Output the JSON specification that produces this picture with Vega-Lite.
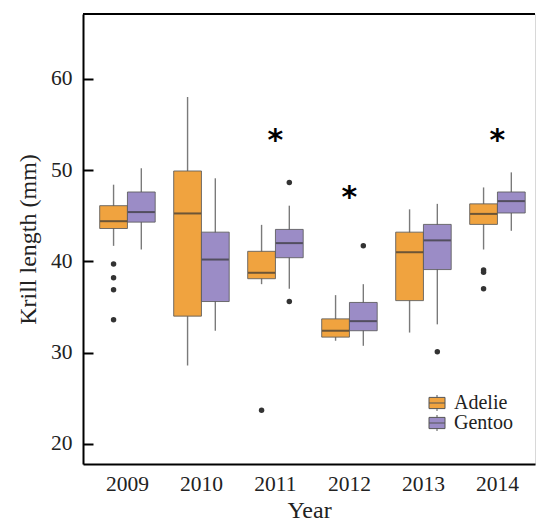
{
  "$schema": "https://vega.github.io/schema/vega-lite/v6.json",
  "width": 452,
  "height": 450,
  "padding": {"left": 16, "top": 13, "right": 0, "bottom": 0},
  "config": {"view": {"stroke": "#d8d8d8", "strokeWidth": 1}, "font": "Liberation Serif", "text": {"font": "Liberation Serif"}},
  "datasets": {
    "boxes": [
      {"year": "2009", "species": "Adelie", "lower": 41.7, "q1": 43.6, "median": 44.4, "q3": 46.1, "upper": 48.4},
      {"year": "2009", "species": "Gentoo", "lower": 41.3, "q1": 44.3, "median": 45.4, "q3": 47.6, "upper": 50.2},
      {"year": "2010", "species": "Adelie", "lower": 28.6, "q1": 34.0, "median": 45.25, "q3": 49.9, "upper": 58.0},
      {"year": "2010", "species": "Gentoo", "lower": 32.4, "q1": 35.6, "median": 40.2, "q3": 43.2, "upper": 49.1},
      {"year": "2011", "species": "Adelie", "lower": 37.5, "q1": 38.1, "median": 38.75, "q3": 41.1, "upper": 44.0},
      {"year": "2011", "species": "Gentoo", "lower": 37.0, "q1": 40.4, "median": 42.0, "q3": 43.5, "upper": 46.1},
      {"year": "2012", "species": "Adelie", "lower": 31.3, "q1": 31.7, "median": 32.4, "q3": 33.7, "upper": 36.3},
      {"year": "2012", "species": "Gentoo", "lower": 30.75, "q1": 32.4, "median": 33.45, "q3": 35.5, "upper": 37.5},
      {"year": "2013", "species": "Adelie", "lower": 32.2, "q1": 35.7, "median": 41.0, "q3": 43.2, "upper": 45.7},
      {"year": "2013", "species": "Gentoo", "lower": 33.1, "q1": 39.1, "median": 42.3, "q3": 44.05, "upper": 46.3},
      {"year": "2014", "species": "Adelie", "lower": 41.3, "q1": 44.05, "median": 45.2, "q3": 46.3, "upper": 48.1},
      {"year": "2014", "species": "Gentoo", "lower": 43.35, "q1": 45.3, "median": 46.6, "q3": 47.6, "upper": 49.75}
    ],
    "outliers": [
      {"year": "2009", "species": "Adelie", "value": 39.7},
      {"year": "2009", "species": "Adelie", "value": 38.2},
      {"year": "2009", "species": "Adelie", "value": 36.9},
      {"year": "2009", "species": "Adelie", "value": 33.6},
      {"year": "2011", "species": "Adelie", "value": 23.7},
      {"year": "2011", "species": "Gentoo", "value": 48.65},
      {"year": "2011", "species": "Gentoo", "value": 35.6},
      {"year": "2012", "species": "Gentoo", "value": 41.7},
      {"year": "2013", "species": "Gentoo", "value": 30.1},
      {"year": "2014", "species": "Adelie", "value": 39.05},
      {"year": "2014", "species": "Adelie", "value": 38.8},
      {"year": "2014", "species": "Adelie", "value": 37.0}
    ],
    "sig": [
      {"year": "2011", "y": 54.0, "label": "*"},
      {"year": "2012", "y": 47.7, "label": "*"},
      {"year": "2014", "y": 54.0, "label": "*"}
    ],
    "frame": [{"top": 67.1}]
  },
  "layer": [
    {
      "data": {"name": "boxes"},
      "mark": {"type": "rule", "color": "#7a7a7a", "strokeWidth": 1.4},
      "encoding": {
        "x": {
          "field": "year", "type": "nominal",
          "scale": {"paddingInner": 0.25, "paddingOuter": 0.179, "align": 0.63},
          "axis": {"title": "Year", "orient": "bottom", "ticks": false, "labelAngle": 0, "labelFont": "Liberation Serif", "labelFontSize": 21.5, "labelFontWeight": "normal", "labelColor": "#222", "labelPadding": 9, "domainColor": "black", "domainWidth": 2, "titleFont": "Liberation Serif", "titleFontSize": 24, "titleFontWeight": "normal", "titleColor": "#222", "titlePadding": 4, "grid": false}
        },
        "xOffset": {"field": "species", "type": "nominal", "scale": {"paddingInner": 0, "paddingOuter": 0}},
        "y": {
          "field": "lower", "type": "quantitative",
          "scale": {"domain": [17.8, 67.1], "nice": false, "zero": false},
          "axis": {"values": [20, 30, 40, 50, 60], "title": "Krill length (mm)", "tickSize": -10, "tickWidth": 2, "tickColor": "black", "domainColor": "black", "domainWidth": 2, "grid": false, "labelFont": "Liberation Serif", "labelFontSize": 21.5, "labelColor": "#222", "labelPadding": 21, "titleFont": "Liberation Serif", "titleFontSize": 24, "titleFontWeight": "normal", "titleColor": "#222", "titlePadding": 10}
        },
        "y2": {"field": "upper"}
      }
    },
    {
      "data": {"name": "boxes"},
      "mark": {"type": "bar", "stroke": "#5a5a5a", "strokeWidth": 1, "strokeOpacity": 0.85},
      "encoding": {
        "x": {"field": "year", "type": "nominal"},
        "xOffset": {"field": "species", "type": "nominal"},
        "y": {"field": "q1", "type": "quantitative"},
        "y2": {"field": "q3"},
        "color": {
          "field": "species", "type": "nominal",
          "scale": {"domain": ["Adelie", "Gentoo"], "range": ["#F0A33F", "#9B8CC6"]},
          "legend": {"title": null, "orient": "none", "legendX": 344, "legendY": 379, "labelFont": "Liberation Serif", "labelFontSize": 20, "labelColor": "#222", "labelOffset": 7, "rowPadding": -1, "symbolType": "M-1,-0.7H1V0.7H-1Z M-1,0H1 M0,-0.7V-1 M0,0.7V1", "symbolSize": 256, "symbolStrokeColor": "#555", "symbolStrokeWidth": 1, "symbolOpacity": 1}
        }
      }
    },
    {
      "data": {"name": "boxes"},
      "mark": {"type": "tick", "color": "#333", "thickness": 2, "size": 27},
      "encoding": {
        "x": {"field": "year", "type": "nominal"},
        "xOffset": {"field": "species", "type": "nominal"},
        "y": {"field": "median", "type": "quantitative"}
      }
    },
    {
      "data": {"name": "outliers"},
      "mark": {"type": "circle", "color": "#333", "size": 30, "opacity": 1},
      "encoding": {
        "x": {"field": "year", "type": "nominal"},
        "xOffset": {"field": "species", "type": "nominal"},
        "y": {"field": "value", "type": "quantitative"}
      }
    },
    {
      "data": {"name": "sig"},
      "mark": {"type": "text", "font": "DejaVu Sans", "fontWeight": "bold", "fontSize": 30, "color": "black", "baseline": "alphabetic", "dy": 16},
      "encoding": {
        "x": {"field": "year", "type": "nominal"},
        "y": {"field": "y", "type": "quantitative"},
        "text": {"field": "label"}
      }
    },
    {
      "data": {"name": "frame"},
      "mark": {"type": "rule", "color": "black", "strokeWidth": 2},
      "encoding": {"y": {"field": "top", "type": "quantitative"}}
    }
  ]
}
